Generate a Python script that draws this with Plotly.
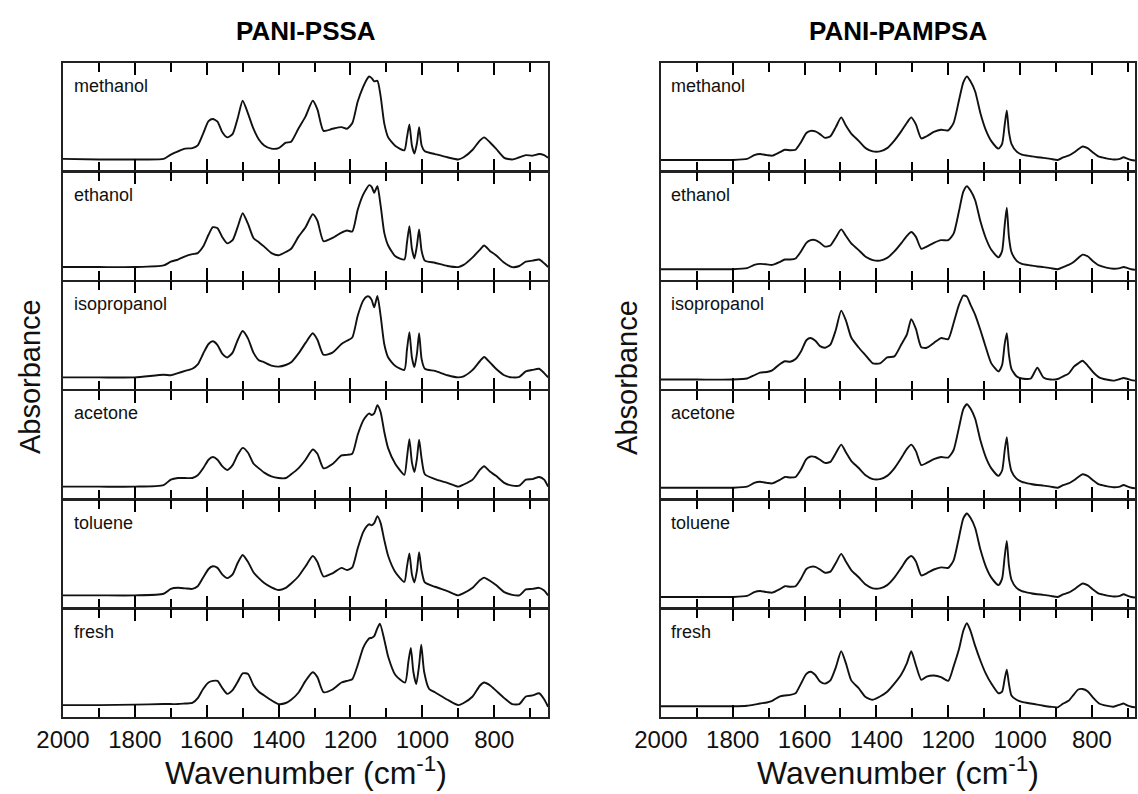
import plotly.graph_objects as go

# ---------------- data (wavenumber in cm-1, absorbance in arbitrary normalised units) -------------
samples = ["methanol", "ethanol", "isopropanol", "acetone", "toluene", "fresh"]
titles = ["PANI-PSSA", "PANI-PAMPSA"]

wn_left = [2000, 1900, 1800, 1720, 1700, 1680, 1660, 1640, 1625, 1610, 1595, 1583, 1570, 1557, 1543,
           1528, 1514, 1500, 1485, 1470, 1455, 1440, 1420, 1400, 1380, 1365, 1345, 1325, 1305, 1292,
           1275, 1250, 1225, 1210, 1195, 1180, 1165, 1155, 1148, 1141, 1134, 1125, 1116, 1106, 1095,
           1075, 1050, 1043, 1036, 1029, 1022, 1015, 1009, 1002, 993, 965, 930, 900, 885, 860,
           840, 828, 812, 795, 772, 750, 730, 712, 693, 675, 661, 650]

wn_left_fresh = [2000, 1900, 1800, 1720, 1700, 1680, 1660, 1640, 1625, 1610, 1595, 1583, 1570, 1557, 1543,
                 1528, 1514, 1500, 1485, 1470, 1455, 1440, 1420, 1400, 1380, 1365, 1345, 1325, 1305, 1292,
                 1275, 1250, 1225, 1210, 1195, 1180, 1165, 1155, 1148, 1141, 1134, 1125, 1118, 1106, 1095,
                 1075, 1048, 1039, 1032, 1025, 1017, 1009, 1003, 995, 981, 965, 930, 900, 885, 860,
                 840, 828, 812, 795, 772, 750, 730, 712, 693, 675, 661, 650]

pssa_methanol = [0.11, 0.105, 0.105, 0.11, 0.15, 0.18, 0.205, 0.21, 0.235, 0.345,
                 0.46, 0.48, 0.455, 0.36, 0.31, 0.34, 0.485, 0.65, 0.53, 0.39,
                 0.29, 0.235, 0.205, 0.21, 0.26, 0.27, 0.39, 0.505, 0.65, 0.57,
                 0.37, 0.39, 0.405, 0.39, 0.44, 0.64, 0.775, 0.845, 0.875, 0.86,
                 0.83, 0.835, 0.69, 0.44, 0.31, 0.23, 0.19, 0.305, 0.43, 0.235,
                 0.16, 0.255, 0.405, 0.235, 0.18, 0.155, 0.125, 0.105, 0.125, 0.195,
                 0.28, 0.31, 0.265, 0.205, 0.12, 0.105, 0.125, 0.145, 0.14, 0.155,
                 0.145, 0.12]
pssa_ethanol = [0.12, 0.12, 0.12, 0.135, 0.17, 0.19, 0.22, 0.24, 0.25, 0.31,
                0.42, 0.49, 0.48, 0.40, 0.34, 0.37, 0.49, 0.62, 0.52, 0.39,
                0.35, 0.31, 0.25, 0.23, 0.26, 0.29, 0.40, 0.49, 0.61, 0.55,
                0.36, 0.39, 0.44, 0.46, 0.45, 0.65, 0.79, 0.85, 0.88, 0.865,
                0.81, 0.87, 0.69, 0.44, 0.32, 0.22, 0.19, 0.34, 0.50, 0.29,
                0.20, 0.32, 0.47, 0.27, 0.18, 0.16, 0.13, 0.12, 0.14, 0.21,
                0.28, 0.32, 0.27, 0.23, 0.16, 0.12, 0.13, 0.17, 0.18, 0.19,
                0.155, 0.12]
pssa_isopropanol = [0.11, 0.11, 0.11, 0.135, 0.13, 0.15, 0.17, 0.19, 0.23, 0.33,
                    0.42, 0.445, 0.41, 0.33, 0.295, 0.34, 0.455, 0.54, 0.47, 0.34,
                    0.27, 0.25, 0.22, 0.21, 0.225, 0.25, 0.33, 0.43, 0.52, 0.46,
                    0.32, 0.34, 0.42, 0.45, 0.48, 0.68, 0.82, 0.86, 0.86, 0.83,
                    0.76, 0.865, 0.68, 0.42, 0.295, 0.215, 0.18, 0.36, 0.53, 0.295,
                    0.205, 0.33, 0.52, 0.28, 0.19, 0.17, 0.13, 0.11, 0.12, 0.18,
                    0.26, 0.30, 0.25, 0.19, 0.13, 0.11, 0.115, 0.165, 0.18, 0.19,
                    0.15, 0.11]
pssa_acetone = [0.11, 0.11, 0.11, 0.125, 0.175, 0.19, 0.19, 0.19, 0.215, 0.28,
                0.36, 0.385, 0.36, 0.30, 0.265, 0.31, 0.405, 0.47, 0.425, 0.325,
                0.28, 0.24, 0.205, 0.19, 0.19, 0.225, 0.28, 0.36, 0.455, 0.415,
                0.28, 0.32, 0.40, 0.405, 0.415, 0.59, 0.72, 0.77, 0.79, 0.775,
                0.79, 0.865, 0.80, 0.62, 0.465, 0.32, 0.22, 0.37, 0.55, 0.335,
                0.245, 0.37, 0.545, 0.37, 0.225, 0.18, 0.145, 0.11, 0.13, 0.175,
                0.265, 0.30, 0.25, 0.21, 0.145, 0.12, 0.12, 0.175, 0.18, 0.20,
                0.175, 0.11]
pssa_toluene = [0.115, 0.115, 0.115, 0.13, 0.175, 0.185, 0.18, 0.175, 0.20, 0.28,
                0.36, 0.385, 0.37, 0.31, 0.275, 0.31, 0.415, 0.49, 0.425, 0.33,
                0.275, 0.23, 0.19, 0.165, 0.185, 0.225, 0.29, 0.385, 0.48, 0.425,
                0.29, 0.32, 0.37, 0.35, 0.375, 0.55, 0.70, 0.755, 0.775, 0.765,
                0.785, 0.85, 0.785, 0.63, 0.48, 0.33, 0.24, 0.375, 0.505, 0.31,
                0.235, 0.345, 0.515, 0.345, 0.235, 0.195, 0.155, 0.115, 0.135, 0.185,
                0.255, 0.28, 0.25, 0.21, 0.145, 0.12, 0.115, 0.17, 0.175, 0.185,
                0.16, 0.115]
pssa_fresh = [0.11, 0.11, 0.115, 0.12, 0.12, 0.12, 0.125, 0.13, 0.175, 0.26,
              0.32, 0.335, 0.335, 0.27, 0.215, 0.25, 0.325, 0.405, 0.40, 0.295,
              0.235, 0.20, 0.155, 0.12, 0.13, 0.16, 0.225, 0.335, 0.415, 0.37,
              0.23, 0.255, 0.32, 0.335, 0.35, 0.48, 0.64, 0.70, 0.73, 0.735,
              0.75, 0.825, 0.865, 0.72, 0.56, 0.39, 0.32, 0.51, 0.64, 0.42,
              0.305, 0.48, 0.67, 0.42, 0.26, 0.23, 0.16, 0.11, 0.13, 0.19,
              0.29, 0.32, 0.295, 0.245, 0.175, 0.12, 0.12, 0.19, 0.20, 0.22,
              0.165, 0.095]

wn_right = [2000, 1900, 1800, 1760, 1740, 1724, 1705, 1690, 1670, 1655, 1640, 1625, 1610, 1595, 1583,
            1570, 1557, 1543, 1528, 1513, 1498, 1485, 1470, 1450, 1430, 1410, 1390, 1370, 1350, 1330,
            1315, 1303, 1290, 1275, 1260, 1240, 1220, 1200, 1185, 1170, 1158, 1148, 1138, 1125, 1110,
            1095, 1080, 1060, 1050, 1043, 1037, 1031, 1024, 1010, 995, 970, 952, 935, 915, 895,
            880, 865, 850, 838, 826, 812, 797, 780, 760, 740, 722, 712, 700, 690, 680]

pampsa_methanol = [0.10, 0.10, 0.10, 0.11, 0.145, 0.155, 0.145, 0.14, 0.17, 0.195,
                   0.19, 0.195, 0.265, 0.35, 0.37, 0.365, 0.34, 0.305, 0.32, 0.405,
                   0.495, 0.42, 0.345, 0.28, 0.21, 0.18, 0.18, 0.21, 0.28, 0.37,
                   0.445, 0.495, 0.43, 0.30, 0.32, 0.36, 0.38, 0.375, 0.445, 0.655,
                   0.82, 0.875, 0.83, 0.735, 0.53, 0.375, 0.275, 0.205, 0.25, 0.42,
                   0.56, 0.36, 0.25, 0.18, 0.15, 0.135, 0.125, 0.12, 0.11, 0.10,
                   0.125, 0.14, 0.17, 0.20, 0.225, 0.21, 0.17, 0.13, 0.115, 0.105,
                   0.11, 0.125, 0.11, 0.10, 0.095]
pampsa_ethanol = [0.10, 0.10, 0.10, 0.11, 0.14, 0.15, 0.145, 0.14, 0.165, 0.19,
                  0.19, 0.20, 0.265, 0.345, 0.37, 0.37, 0.345, 0.31, 0.32, 0.395,
                  0.47, 0.41, 0.34, 0.28, 0.215, 0.185, 0.18, 0.205, 0.265, 0.345,
                  0.41, 0.445, 0.40, 0.29, 0.31, 0.345, 0.37, 0.37, 0.43, 0.64,
                  0.82, 0.87, 0.83, 0.74, 0.54, 0.385, 0.28, 0.21, 0.27, 0.50,
                  0.67, 0.40, 0.26, 0.18, 0.15, 0.135, 0.125, 0.12, 0.11, 0.10,
                  0.12, 0.14, 0.17, 0.205, 0.235, 0.22, 0.175, 0.135, 0.115, 0.105,
                  0.11, 0.12, 0.11, 0.10, 0.095]
pampsa_isopropanol = [0.09, 0.09, 0.09, 0.10, 0.13, 0.155, 0.16, 0.175, 0.23, 0.26,
                      0.255, 0.28, 0.35, 0.455, 0.475, 0.45, 0.40, 0.385, 0.415, 0.55,
                      0.73, 0.64, 0.48, 0.39, 0.315, 0.24, 0.24, 0.295, 0.305, 0.42,
                      0.51, 0.65, 0.56, 0.39, 0.385, 0.43, 0.475, 0.465, 0.615, 0.785,
                      0.87, 0.86, 0.785, 0.69, 0.545, 0.385, 0.24, 0.165, 0.225, 0.415,
                      0.52, 0.32, 0.19, 0.12, 0.10, 0.10, 0.20, 0.11, 0.09, 0.095,
                      0.12, 0.145, 0.21, 0.24, 0.265, 0.22, 0.16, 0.11, 0.09, 0.08,
                      0.095, 0.105, 0.095, 0.085, 0.08]
pampsa_acetone = [0.10, 0.10, 0.10, 0.11, 0.145, 0.155, 0.145, 0.14, 0.17, 0.20,
                  0.195, 0.20, 0.27, 0.365, 0.39, 0.385, 0.36, 0.33, 0.34, 0.42,
                  0.50, 0.43, 0.35, 0.285, 0.215, 0.18, 0.18, 0.21, 0.28, 0.38,
                  0.46, 0.50, 0.44, 0.31, 0.33, 0.365, 0.385, 0.38, 0.45, 0.66,
                  0.83, 0.875, 0.835, 0.74, 0.535, 0.38, 0.28, 0.21, 0.26, 0.44,
                  0.57, 0.37, 0.255, 0.185, 0.155, 0.135, 0.125, 0.12, 0.11, 0.10,
                  0.125, 0.14, 0.17, 0.20, 0.225, 0.21, 0.17, 0.13, 0.115, 0.105,
                  0.11, 0.125, 0.11, 0.10, 0.095]
pampsa_toluene = [0.10, 0.10, 0.10, 0.11, 0.145, 0.155, 0.145, 0.14, 0.17, 0.20,
                  0.195, 0.20, 0.27, 0.36, 0.38, 0.38, 0.355, 0.325, 0.335, 0.415,
                  0.50, 0.43, 0.35, 0.285, 0.215, 0.18, 0.18, 0.21, 0.28, 0.375,
                  0.45, 0.48, 0.43, 0.30, 0.32, 0.355, 0.375, 0.37, 0.44, 0.655,
                  0.83, 0.875, 0.835, 0.74, 0.535, 0.38, 0.28, 0.21, 0.27, 0.47,
                  0.62, 0.39, 0.26, 0.185, 0.155, 0.135, 0.125, 0.12, 0.11, 0.10,
                  0.125, 0.14, 0.17, 0.20, 0.225, 0.21, 0.17, 0.13, 0.115, 0.105,
                  0.11, 0.125, 0.11, 0.10, 0.095]
pampsa_fresh = [0.10, 0.10, 0.10, 0.105, 0.115, 0.125, 0.135, 0.15, 0.19, 0.20,
                0.205, 0.22, 0.31, 0.40, 0.42, 0.39, 0.33, 0.31, 0.34, 0.46,
                0.61, 0.50, 0.34, 0.27, 0.185, 0.16, 0.19, 0.235, 0.31, 0.40,
                0.50, 0.61, 0.48, 0.345, 0.375, 0.385, 0.37, 0.335, 0.47, 0.63,
                0.80, 0.87, 0.80, 0.66, 0.52, 0.40, 0.31, 0.22, 0.235, 0.35,
                0.44, 0.31, 0.20, 0.16, 0.14, 0.125, 0.115, 0.105, 0.095, 0.09,
                0.125, 0.15, 0.21, 0.255, 0.26, 0.24, 0.18, 0.125, 0.105, 0.095,
                0.115, 0.125, 0.105, 0.095, 0.09]

left_x = [wn_left, wn_left, wn_left, wn_left, wn_left, wn_left_fresh]
left_y = [pssa_methanol, pssa_ethanol, pssa_isopropanol, pssa_acetone, pssa_toluene, pssa_fresh]
right_x = [wn_right] * 6
right_y = [pampsa_methanol, pampsa_ethanol, pampsa_isopropanol, pampsa_acetone, pampsa_toluene, pampsa_fresh]

# ---------------- layout geometry ----------------
W, H = 1138, 794
ML, MR, MT, MB = 63, 1, 63, 77
PW = W - ML - MR
PH = H - MT - MB
LW = 1.5
GAP = LW / PH
PANEL = (1 - 5 * GAP) / 6
xdoms = [[0, (549 - ML) / PW], [(662 - ML) / PW, 1]]
xranges = [[2000, 650], [2000, 680]]
FONT = "Liberation Sans, Arial, Helvetica, sans-serif"
AX = "#000000"
TL, TW, MTL, MTW = 12, 1.6, 9, 1.5

fig = go.Figure()
layout = {}
annotations = []
cols = [(left_x, left_y), (right_x, right_y)]
for c in range(2):
    xs_list, ys_list = cols[c]
    for r in range(6):
        idx = c * 6 + r + 1
        sid = "" if idx == 1 else str(idx)
        top = 1 - r * (PANEL + GAP)
        fig.add_trace(go.Scatter(
            x=xs_list[r], y=ys_list[r], mode="lines",
            line=dict(color="#111111", width=1.9, shape="spline", smoothing=0.6),
            xaxis=f"x{sid}", yaxis=f"y{sid}", showlegend=False, hoverinfo="skip"))
        layout[f"xaxis{sid}"] = dict(
            domain=xdoms[c], range=xranges[c], anchor=f"y{sid}",
            showline=True, linecolor="#222222", linewidth=LW, mirror="ticks",
            ticks="inside", ticklen=TL, tickwidth=TW, tickcolor=AX,
            tickmode="linear", tick0=0, dtick=200,
            minor=dict(dtick=100, tick0=0, ticks="inside", ticklen=MTL, tickwidth=MTW, tickcolor=AX),
            showgrid=False, zeroline=False, showticklabels=(r == 5),
            tickfont=dict(size=24, family=FONT, color="#111111"))
        layout[f"yaxis{sid}"] = dict(
            domain=[max(top - PANEL, 0), min(top, 1)], range=[0, 1], anchor=f"x{sid}",
            showline=True, linecolor="#222222", linewidth=LW, mirror=True,
            ticks="", showticklabels=False, showgrid=False, zeroline=False)
        annotations.append(dict(
            text=samples[r], xref=f"x{sid} domain", yref=f"y{sid} domain",
            x=0.018, y=1 - 23 / 109, xanchor="left", yanchor="middle", showarrow=False,
            font=dict(size=18, family=FONT, color="#111111")))

def px_to_paper_x(px):
    return (px - ML) / PW

def py_to_paper_y(py):
    return 1 - (py - MT) / PH

for c, cx in enumerate([306, 899.5]):
    annotations.append(dict(
        text=f"<b>{titles[c]}</b>", xref="paper", yref="paper",
        x=px_to_paper_x(cx), y=py_to_paper_y(31), xanchor="center", yanchor="middle",
        showarrow=False,
        font=dict(size=26, family="Liberation Sans Narrow, Arial Narrow, Liberation Sans, Arial", color="#000000")))
    annotations.append(dict(
        text="Wavenumber (cm<sup>-1</sup>)", xref="paper", yref="paper",
        x=px_to_paper_x(cx), y=py_to_paper_y(793), xanchor="center", yanchor="bottom",
        showarrow=False, font=dict(size=32, family=FONT, color="#111111")))
for ax_px in [30, 628]:
    annotations.append(dict(
        text="Absorbance", xref="paper", yref="paper", textangle=-90,
        x=px_to_paper_x(ax_px), y=py_to_paper_y(377), xanchor="center", yanchor="middle",
        showarrow=False, font=dict(size=29, family=FONT, color="#111111")))

fig.update_layout(
    width=W, height=H, margin=dict(l=ML, r=MR, t=MT, b=MB),
    paper_bgcolor="white", plot_bgcolor="white",
    annotations=annotations, **layout)

fig.write_html("out.html")
